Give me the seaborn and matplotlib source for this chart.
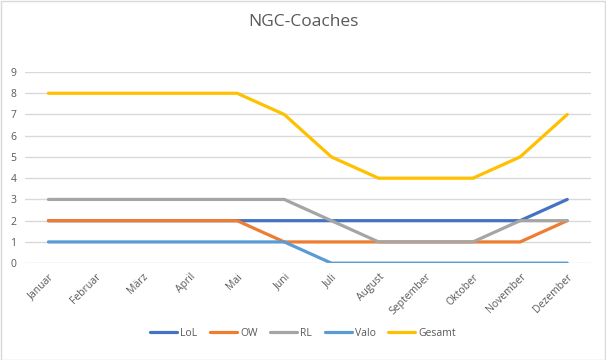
import matplotlib
matplotlib.use("Agg")
import matplotlib.pyplot as plt
import seaborn as sns
import pandas as pd
from matplotlib.patches import Rectangle

months = ["Januar", "Februar", "März", "April", "Mai", "Juni", "Juli",
          "August", "September", "Oktober", "November", "Dezember"]
lol = [2, 2, 2, 2, 2, 2, 2, 2, 2, 2, 2, 3]
ow = [2, 2, 2, 2, 2, 1, 1, 1, 1, 1, 1, 2]
rl = [3, 3, 3, 3, 3, 3, 2, 1, 1, 1, 2, 2]
valo = [1, 1, 1, 1, 1, 1, 0, 0, 0, 0, 0, 0]
gesamt = [8, 8, 8, 8, 8, 7, 5, 4, 4, 4, 5, 7]

series = {"LoL": lol, "OW": ow, "RL": rl, "Valo": valo, "Gesamt": gesamt}
colors = ["#4472C4", "#ED7D31", "#A5A5A5", "#5B9BD5", "#FFC000"]

rows = []
for name, vals in series.items():
    for i, (m, v) in enumerate(zip(months, vals)):
        rows.append({"idx": i, "Monat": m, "Serie": name, "Wert": v})
df = pd.DataFrame(rows)

sns.set_theme(style="white")
plt.rcParams["font.family"] = ["Open Sans", "DejaVu Sans"]

fig = plt.figure(figsize=(6.06, 3.6), dpi=100)
ax = fig.add_axes([0.041, 0.269, 0.934, 0.531])

sns.lineplot(data=df, x="idx", y="Wert", hue="Serie", hue_order=list(series.keys()),
             palette=colors, linewidth=2.3, sort=False, ax=ax, legend=True)

ax.set_xlim(-0.5, 11.5)
ax.set_ylim(0, 9)
ax.set_yticks(range(0, 10))
ax.set_xticks(range(12))
ax.set_xticklabels(months, rotation=45, ha="right", rotation_mode="anchor")
ax.tick_params(axis="both", colors="#595959", labelsize=7.5, length=0, pad=6)
ax.grid(axis="y", color="#D9D9D9", linewidth=1)
ax.set_axisbelow(True)
for s in ax.spines.values():
    s.set_visible(False)
ax.set_xlabel("")
ax.set_ylabel("")

handles, labels = ax.get_legend_handles_labels()
ax.legend(handles, labels, loc="center", bbox_to_anchor=(0.5, 1 - 333 / 360),
          bbox_transform=fig.transFigure, ncol=5, frameon=False,
          fontsize=7.5, labelcolor="#595959", handlelength=2.6,
          handletextpad=0.3, columnspacing=1.2)

fig.text(0.5, 1 - 22 / 360, "NGC-Coaches", ha="center", va="center",
         fontsize=12.5, color="#595959")

fig.patches.append(Rectangle((0.001, 0.001), 0.997, 0.997, transform=fig.transFigure,
                             fill=False, edgecolor="#D9D9D9", linewidth=1))

fig.savefig("out.png", dpi=100)
